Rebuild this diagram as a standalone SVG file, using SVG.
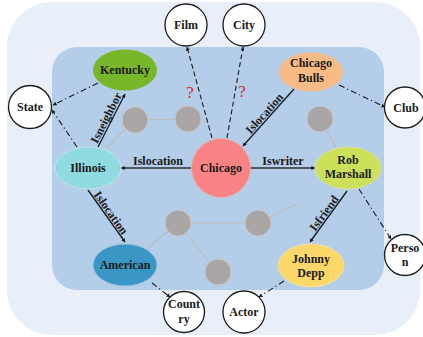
<svg xmlns="http://www.w3.org/2000/svg" width="423" height="337" viewBox="0 0 423 337">
<style>
text{font-family:"Liberation Serif","Times New Roman",serif;font-weight:bold;font-size:12px;fill:#1a1a1a;text-anchor:middle}
.gray{fill:#aaa6a6;stroke:#cac6c6;stroke-width:1}
.gl{stroke:#bdbdbd;stroke-width:1.2;fill:none}
.rel{stroke:#1a1a1a;stroke-width:1.3;fill:none;marker-end:url(#ah)}
.relh{stroke:#4e5764;stroke-width:2;fill:none;marker-end:url(#ah)}
.dash{stroke:#1a1a1a;stroke-width:1.1;fill:none;stroke-dasharray:5 3;marker-end:url(#ah)}
.dd{stroke:#1a1a1a;stroke-width:1.1;fill:none;stroke-dasharray:6 3 1.2 3;marker-end:url(#ah)}
.type{fill:#ffffff;stroke:#1a1a1a;stroke-width:1.3}
.q{fill:#e0282e;font-size:17px;font-weight:normal}
</style>
<defs>
<marker id="ah" viewBox="0 0 10 10" refX="9" refY="5" markerWidth="4" markerHeight="4" markerUnits="userSpaceOnUse" orient="auto">
<path d="M0,0 L10,5 L0,10 z" fill="#1a1a1a"/>
</marker>
</defs>
<rect x="7" y="2" width="413" height="333" rx="45" fill="#e9eff8"/>
<rect x="52" y="47" width="332" height="243" rx="25" fill="#b4cde8"/>

<g id="background-graph">
<line class="gl" x1="148" y1="119.5" x2="175" y2="119.5"/>
<line class="gl" x1="125" y1="129" x2="107" y2="148"/>
<line class="gl" x1="327" y1="131" x2="336" y2="148"/>
<line class="gl" x1="191" y1="223" x2="245" y2="223"/>
<line class="gl" x1="167" y1="232" x2="147" y2="249"/>
<line class="gl" x1="187" y1="234" x2="209" y2="262"/>
<line class="gl" x1="270" y1="217" x2="296" y2="204"/>
<circle class="gray" cx="135" cy="120" r="13"/>
<circle class="gray" cx="188" cy="119" r="13"/>
<circle class="gray" cx="320" cy="119" r="13"/>
<circle class="gray" cx="178" cy="223" r="13"/>
<circle class="gray" cx="258" cy="223" r="13"/>
<circle class="gray" cx="218" cy="272" r="13"/>
</g>

<g id="connectors">
<line class="relh" x1="192" y1="168" x2="121" y2="168"/>
<line class="relh" x1="251" y1="168" x2="315" y2="168"/>
<line class="rel" x1="294" y1="89" x2="243" y2="146"/>
<line class="rel" x1="98" y1="147" x2="125" y2="94"/>
<line class="rel" x1="88" y1="190" x2="125" y2="242"/>
<line class="rel" x1="347" y1="191" x2="310" y2="242"/>
<line class="dash" x1="212" y1="138" x2="187" y2="47"/>
<line class="dash" x1="227" y1="138" x2="243" y2="47"/>
<line class="dd" x1="98" y1="83" x2="53" y2="105"/>
<line class="dd" x1="77" y1="147" x2="52" y2="110"/>
<line class="dd" x1="339" y1="85" x2="385" y2="107"/>
<line class="dd" x1="359" y1="189" x2="391" y2="239"/>
<line class="dd" x1="152" y1="283" x2="170" y2="297"/>
<line class="dd" x1="284" y1="281" x2="259" y2="297"/>
<text x="158" y="165">Islocation</text>
<text x="283" y="165">Iswriter</text>
<text transform="translate(267.3,116.2) rotate(-48.2)">Islocation</text>
<text transform="translate(109.7,119.6) rotate(-63)">Isneighbor</text>
<text transform="translate(107.7,215.1) rotate(54.6)">Islocation</text>
<text transform="translate(327.3,215.6) rotate(-54)">Isfriend</text>
<text class="q" x="190" y="98">?</text>
<text class="q" x="242" y="97">?</text>
</g>

<g id="kentucky"><ellipse cx="125" cy="70" rx="32" ry="20.5" fill="#78b62a"/><text x="125" y="74">Kentucky</text></g>
<g id="illinois"><ellipse cx="88" cy="168" rx="33" ry="21" fill="#8fdbe0" stroke="#c6e4e8" stroke-width="1"/><text x="88" y="172">Illinois</text></g>
<g id="chicago"><circle cx="221" cy="168" r="29.5" fill="#f98385" stroke="#e9b0b4" stroke-width="1"/><text x="221" y="172">Chicago</text></g>
<g id="rob-marshall"><ellipse cx="348" cy="168" rx="33" ry="21" fill="#cde05a" stroke="#d7e49a" stroke-width="1"/><text x="348" y="164">Rob</text><text x="348" y="178">Marshall</text></g>
<g id="chicago-bulls"><ellipse cx="311" cy="72" rx="32" ry="19.5" fill="#f8bb86"/><text x="311" y="67">Chicago</text><text x="311" y="82">Bulls</text></g>
<g id="american"><ellipse cx="125" cy="265" rx="32" ry="21" fill="#3a97c5" stroke="#9ec3dc" stroke-width="1"/><text x="125" y="269">American</text></g>
<g id="johnny-depp"><ellipse cx="311" cy="265.5" rx="33" ry="21.5" fill="#fbd869" stroke="#f3e2a8" stroke-width="1"/><text x="311" y="263">Johnny</text><text x="311" y="277">Depp</text></g>

<g id="film"><circle class="type" cx="186" cy="25" r="21"/><text x="186" y="29">Film</text></g>
<g id="city"><circle class="type" cx="244" cy="25" r="21"/><text x="244" y="29">City</text></g>
<g id="state"><circle class="type" cx="30" cy="107" r="21.5"/><text x="30" y="111">State</text></g>
<g id="club"><circle class="type" cx="405" cy="107.5" r="20.5"/><text x="406" y="111.5">Club</text></g>
<g id="person"><circle class="type" cx="405" cy="255" r="20.5"/><text x="405" y="252">Perso</text><text x="405" y="266">n</text></g>
<g id="country"><circle class="type" cx="184" cy="312" r="20.5"/><text x="184" y="308">Count</text><text x="184" y="323">ry</text></g>
<g id="actor"><circle class="type" cx="244" cy="312" r="21"/><text x="244" y="316">Actor</text></g>
</svg>
